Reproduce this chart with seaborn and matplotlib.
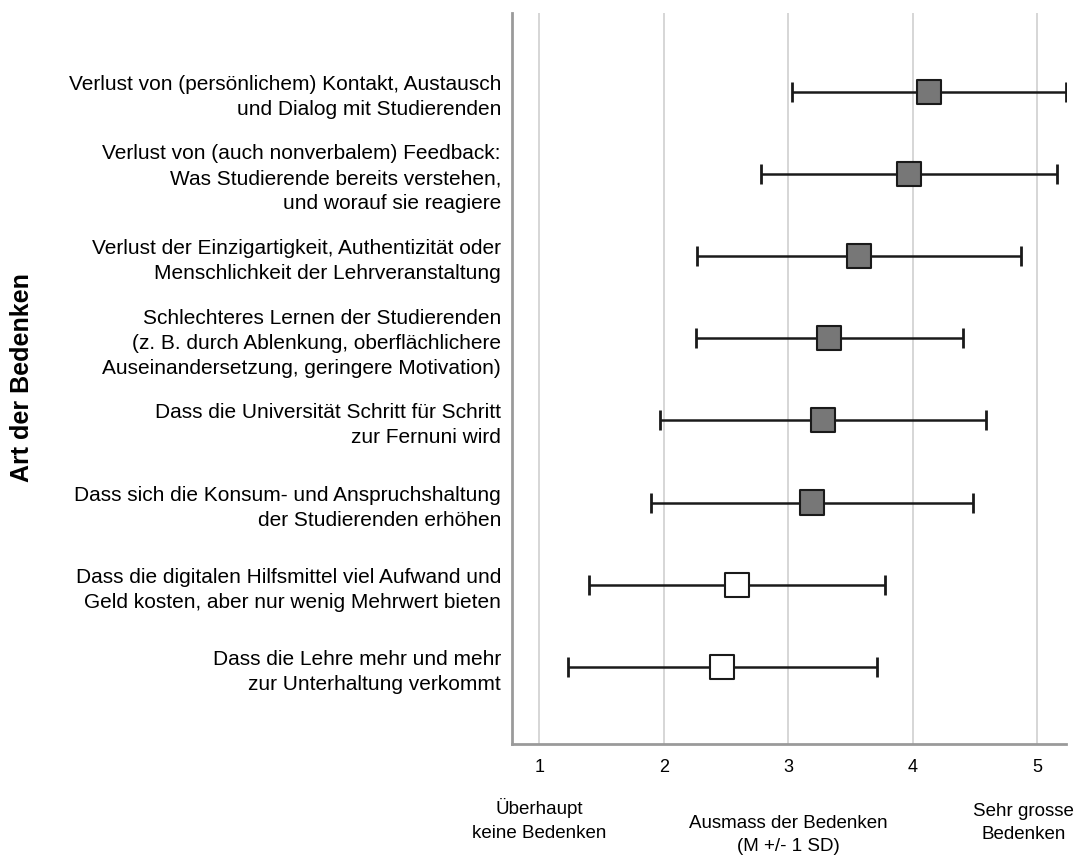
import matplotlib
matplotlib.use("Agg")
import matplotlib.pyplot as plt
import matplotlib.transforms as mtransforms
import seaborn as sns

# Bedenken (Reihenfolge von oben nach unten)
labels = [
    "Verlust von (persönlichem) Kontakt, Austausch\nund Dialog mit Studierenden",
    "Verlust von (auch nonverbalem) Feedback:\nWas Studierende bereits verstehen,\nund worauf sie reagiere",
    "Verlust der Einzigartigkeit, Authentizität oder\nMenschlichkeit der Lehrveranstaltung",
    "Schlechteres Lernen der Studierenden\n(z. B. durch Ablenkung, oberflächlichere\nAuseinandersetzung, geringere Motivation)",
    "Dass die Universität Schritt für Schritt\nzur Fernuni wird",
    "Dass sich die Konsum- und Anspruchshaltung\nder Studierenden erhöhen",
    "Dass die digitalen Hilfsmittel viel Aufwand und\nGeld kosten, aber nur wenig Mehrwert bieten",
    "Dass die Lehre mehr und mehr\nzur Unterhaltung verkommt",
]
means = [4.13, 3.97, 3.57, 3.33, 3.28, 3.19, 2.59, 2.47]
sds = [1.10, 1.19, 1.30, 1.07, 1.31, 1.29, 1.19, 1.24]
high = [True, True, True, True, True, True, False, False]
xticks = [1, 2, 3, 4, 5]

sns.set_style("white")
plt.rcParams["font.family"] = ["Liberation Sans", "DejaVu Sans"]
plt.rcParams["text.color"] = "black"
plt.rcParams["xtick.color"] = "black"
plt.rcParams["ytick.color"] = "black"
plt.rcParams["axes.labelcolor"] = "black"

fig = plt.figure(figsize=(10.77, 8.59), dpi=100)
ax = fig.add_axes([512 / 1077, 1 - 744 / 859, (1066 - 512) / 1077, (744 - 13) / 859])

pos = list(range(len(labels)))

# vertikale Gitterlinien
for xv in xticks:
    ax.axvline(xv, color="#cfcfcf", lw=1.2, zorder=0)

# Fehlerbalken (M +/- 1 SD)
ax.errorbar(means, pos, xerr=sds, fmt="none", ecolor="#1a1a1a",
            elinewidth=1.8, capsize=7, capthick=2, zorder=2)

# Mittelwerte als Quadrate
fill = ["#777777" if h else "white" for h in high]
sns.scatterplot(x=means, y=pos, marker="s", s=300, c=fill,
                edgecolor="#1a1a1a", linewidth=1.5, zorder=3, ax=ax)

ax.set_xlim(0.78, 5.23)
ax.set_ylim(len(labels) - 1 + 0.94, -0.96)
ax.set_xticks(xticks)
ax.set_xticklabels([str(v) for v in xticks], fontsize=13)
ax.set_yticks(pos)
ax.set_yticklabels(labels, fontsize=15, linespacing=1.4)
ax.tick_params(axis="both", length=0)
ax.tick_params(axis="x", pad=11)
ax.tick_params(axis="y", pad=8)

for side in ["top", "right"]:
    ax.spines[side].set_visible(False)
for side in ["left", "bottom"]:
    ax.spines[side].set_color("#9a9a9a")
    ax.spines[side].set_linewidth(2)

ax.set_ylabel("Art der Bedenken", fontsize=18, fontweight="bold")
ax.yaxis.set_label_coords(34 / 1077, 1 - 378 / 859, transform=fig.transFigure)

# Beschriftungen unter der x-Achse
trans = mtransforms.blended_transform_factory(ax.transData, fig.transFigure)
ax.text(1, 1 - 820 / 859, "Überhaupt\nkeine Bedenken", transform=trans,
        ha="center", va="center", fontsize=13.5, linespacing=1.5)
ax.text(3, 1 - 835 / 859, "Ausmass der Bedenken\n(M +/- 1 SD)", transform=trans,
        ha="center", va="center", fontsize=13.5, linespacing=1.5)
ax.text(4.89, 1 - 823 / 859, "Sehr grosse\nBedenken", transform=trans,
        ha="center", va="center", fontsize=13.5, linespacing=1.5)

fig.savefig("out.png", dpi=100)
